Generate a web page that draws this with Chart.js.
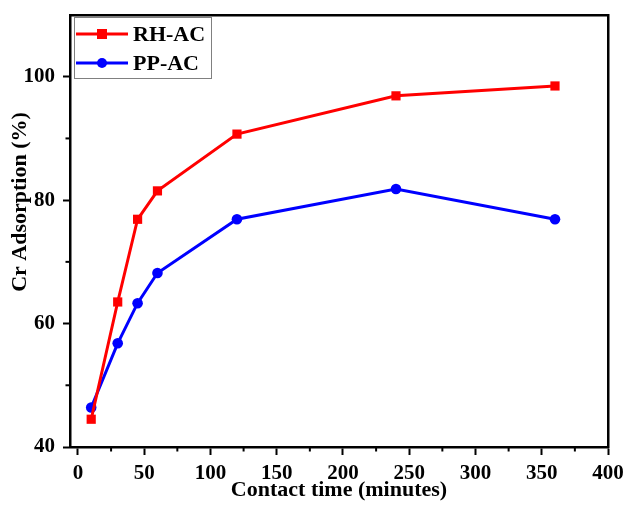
<!DOCTYPE html>
<html>
<head>
<meta charset="utf-8">
<script src="https://cdn.jsdelivr.net/npm/chart.js@4/dist/chart.umd.min.js"></script>
<style>
html,body{margin:0;padding:0;background:#fff;}
#wrap{width:627px;height:505px;}
</style>
</head>
<body>
<div id="wrap"><canvas id="c" width="627" height="505"></canvas></div>
<script>
// ---- data ----
const times = [10, 30, 45, 60, 120, 240, 360];
const rhAC = [44.5, 63.5, 76.9, 81.5, 90.7, 96.9, 98.5];
const ppAC = [46.4, 56.8, 63.3, 68.2, 76.9, 81.8, 76.9];
const seriesNames = ['RH-AC', 'PP-AC'];
const xMajorTicks = [0, 50, 100, 150, 200, 250, 300, 350, 400];
const xMinorTicks = [25, 75, 125, 175, 225, 275, 325, 375];
const yMajorTicks = [40, 60, 80, 100];
const yMinorTicks = [50, 70, 90];
const xTitle = 'Contact time (minutes)';
const yTitle = 'Cr Adsorption (%)';

const FONT = '"Liberation Serif", "Times New Roman", serif';

const minorTickPlugin = {
  id: 'minorTicks',
  afterDraw(chart) {
    const ctx = chart.ctx;
    const xs = chart.scales.x, ys = chart.scales.y;
    ctx.save();
    ctx.strokeStyle = '#000';
    ctx.lineWidth = 2;
    xMinorTicks.forEach(v => {
      const px = xs.getPixelForValue(v);
      ctx.beginPath();
      ctx.moveTo(px, xs.top);
      ctx.lineTo(px, xs.top + 4.5);
      ctx.stroke();
    });
    yMinorTicks.forEach(v => {
      const py = ys.getPixelForValue(v);
      ctx.beginPath();
      ctx.moveTo(ys.right, py);
      ctx.lineTo(ys.right - 4.5, py);
      ctx.stroke();
    });
    ctx.restore();
  }
};

const yTitlePlugin = {
  id: 'yTitle',
  afterDraw(chart) {
    const ctx = chart.ctx;
    const a = chart.chartArea;
    ctx.save();
    ctx.translate(20, (a.top + a.bottom) / 2 - 29);
    ctx.rotate(-Math.PI / 2);
    ctx.fillStyle = '#000';
    ctx.font = 'bold 22px ' + FONT;
    ctx.textAlign = 'center';
    ctx.textBaseline = 'middle';
    ctx.fillText(yTitle, 0, 0);
    ctx.restore();
  }
};

const legendPlugin = {
  id: 'boxLegend',
  afterDraw(chart) {
    const ctx = chart.ctx;
    const a = chart.chartArea;
    const bx = a.left + 4, by = a.top + 2, bw = 137, bh = 61;
    ctx.save();
    ctx.fillStyle = '#fff';
    ctx.fillRect(bx, by, bw, bh);
    ctx.strokeStyle = '#808080';
    ctx.lineWidth = 1;
    ctx.strokeRect(bx + 0.5, by + 0.5, bw, bh);
    chart.data.datasets.forEach((ds, i) => {
      const cy = by + 17 + i * 29;
      ctx.strokeStyle = ds.borderColor;
      ctx.lineWidth = 3;
      ctx.beginPath();
      ctx.moveTo(bx + 2, cy);
      ctx.lineTo(bx + 54, cy);
      ctx.stroke();
      ctx.fillStyle = ds.borderColor;
      if (ds.pointStyle === 'rect') {
        ctx.fillRect(bx + 23, cy - 5, 10, 10);
      } else {
        ctx.beginPath();
        ctx.arc(bx + 28, cy, 5, 0, Math.PI * 2);
        ctx.fill();
      }
      ctx.fillStyle = '#000';
      ctx.font = 'bold 22px ' + FONT;
      ctx.textBaseline = 'middle';
      ctx.textAlign = 'left';
      ctx.fillText(ds.label, bx + 59, cy + 1);
    });
    ctx.restore();
  }
};

const axisBorder = {display: true, color: '#000', width: 2.5};
const noPad = s => { s.paddingLeft = 0; s.paddingRight = 0; s.paddingTop = 0; s.paddingBottom = 0; };

new Chart(document.getElementById('c'), {
  type: 'line',
  data: {
    datasets: [
      {
        label: seriesNames[0],
        data: times.map((t, i) => ({x: t, y: rhAC[i]})),
        borderColor: '#ff0000',
        backgroundColor: '#ff0000',
        borderWidth: 3,
        pointStyle: 'rect',
        pointRadius: 6.5,
        pointBorderWidth: 0,
        tension: 0
      },
      {
        label: seriesNames[1],
        data: times.map((t, i) => ({x: t, y: ppAC[i]})),
        borderColor: '#0000ff',
        backgroundColor: '#0000ff',
        borderWidth: 3,
        pointStyle: 'circle',
        pointRadius: 5.3,
        pointBorderWidth: 0,
        tension: 0
      }
    ]
  },
  options: {
    responsive: false,
    animation: false,
    layout: {padding: 0},
    plugins: {legend: {display: false}, tooltip: {enabled: false}},
    scales: {
      x: {
        type: 'linear',
        position: 'bottom',
        min: -6,
        max: 400,
        afterBuildTicks: s => { s.ticks = xMajorTicks.map(v => ({value: v})); },
        afterFit: s => { s.height = 58; noPad(s); },
        grid: {display: true, drawOnChartArea: false, drawTicks: true, tickLength: 8, tickColor: '#000', tickWidth: 2},
        border: axisBorder,
        ticks: {color: '#000', font: {family: FONT, size: 21, weight: 'bold'}, padding: 6, maxRotation: 0, autoSkip: false},
        title: {display: true, text: xTitle, color: '#000', font: {family: FONT, size: 22, weight: 'bold'}, padding: {top: 0, bottom: 1}}
      },
      x2: {
        type: 'linear',
        position: 'top',
        min: -6,
        max: 400,
        afterFit: s => { s.height = 15; noPad(s); },
        grid: {display: false},
        border: axisBorder,
        ticks: {display: false}
      },
      y: {
        type: 'linear',
        position: 'left',
        min: 40,
        max: 110,
        afterBuildTicks: s => { s.ticks = yMajorTicks.map(v => ({value: v})); },
        afterFit: s => { s.width = 70; noPad(s); },
        grid: {display: true, drawOnChartArea: false, drawTicks: true, tickLength: 7, tickColor: '#000', tickWidth: 2},
        border: axisBorder,
        ticks: {color: '#000', font: {family: FONT, size: 21, weight: 'bold'}, padding: 8},
        title: {display: false}
      },
      y2: {
        type: 'linear',
        position: 'right',
        min: 40,
        max: 110,
        afterFit: s => { s.width = 19; noPad(s); },
        grid: {display: false},
        border: axisBorder,
        ticks: {display: false}
      }
    }
  },
  plugins: [minorTickPlugin, yTitlePlugin, legendPlugin]
});
</script>
</body>
</html>
